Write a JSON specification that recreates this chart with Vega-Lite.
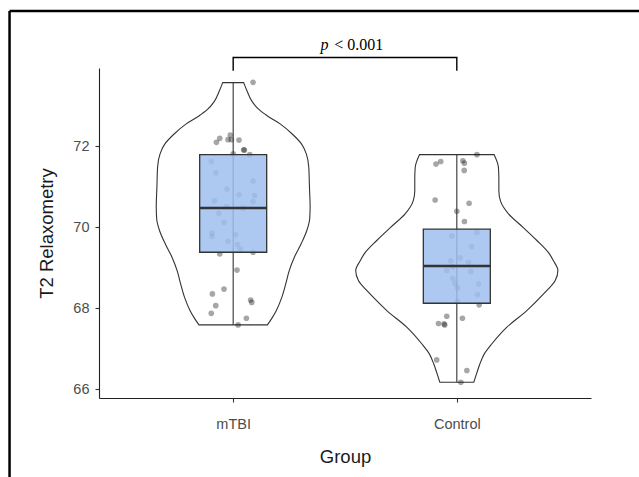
{
  "$schema": "https://vega.github.io/schema/vega-lite/v6.json",
  "width": 492,
  "height": 330,
  "autosize": {"type": "none"},
  "padding": {"left": 99, "top": 68, "right": 48, "bottom": 79},
  "background": "white",
  "config": {
    "view": {"stroke": null},
    "font": "Liberation Sans",
    "scale": {"continuousPadding": 0},
    "axis": {
      "grid": false,
      "domainColor": "#222222",
      "domainWidth": 1.1,
      "tickColor": "#333333",
      "tickWidth": 1.1,
      "tickSize": 4,
      "labelFont": "Liberation Sans",
      "labelFontSize": 14.5,
      "labelColor": "#4d4d4d",
      "titleFont": "Liberation Sans",
      "titleFontSize": 18.5,
      "titleFontWeight": "normal",
      "titleColor": "#1a1a1a"
    },
    "axisX": {"labelPadding": 15, "titlePadding": 17},
    "axisY": {"labelPadding": 6, "titlePadding": 16}
  },
  "datasets": {
    "violin": [
      {"group": "mTBI", "t2": 73.57, "lo": 0.953, "hi": 1.047},
      {"group": "mTBI", "t2": 73.35, "lo": 0.937, "hi": 1.063},
      {"group": "mTBI", "t2": 73.10, "lo": 0.915, "hi": 1.085},
      {"group": "mTBI", "t2": 72.90, "lo": 0.884, "hi": 1.116},
      {"group": "mTBI", "t2": 72.75, "lo": 0.848, "hi": 1.152},
      {"group": "mTBI", "t2": 72.55, "lo": 0.790, "hi": 1.210},
      {"group": "mTBI", "t2": 72.30, "lo": 0.736, "hi": 1.264},
      {"group": "mTBI", "t2": 72.05, "lo": 0.694, "hi": 1.306},
      {"group": "mTBI", "t2": 71.81, "lo": 0.673, "hi": 1.327},
      {"group": "mTBI", "t2": 71.48, "lo": 0.662, "hi": 1.338},
      {"group": "mTBI", "t2": 71.00, "lo": 0.659, "hi": 1.341},
      {"group": "mTBI", "t2": 70.50, "lo": 0.656, "hi": 1.344},
      {"group": "mTBI", "t2": 70.20, "lo": 0.658, "hi": 1.342},
      {"group": "mTBI", "t2": 69.91, "lo": 0.671, "hi": 1.329},
      {"group": "mTBI", "t2": 69.59, "lo": 0.696, "hi": 1.304},
      {"group": "mTBI", "t2": 69.25, "lo": 0.727, "hi": 1.273},
      {"group": "mTBI", "t2": 68.93, "lo": 0.749, "hi": 1.251},
      {"group": "mTBI", "t2": 68.60, "lo": 0.765, "hi": 1.235},
      {"group": "mTBI", "t2": 68.26, "lo": 0.783, "hi": 1.217},
      {"group": "mTBI", "t2": 67.93, "lo": 0.808, "hi": 1.192},
      {"group": "mTBI", "t2": 67.74, "lo": 0.828, "hi": 1.172},
      {"group": "mTBI", "t2": 67.585, "lo": 0.847, "hi": 1.153},
      {"group": "Control", "t2": 71.79, "lo": 1.833, "hi": 2.167},
      {"group": "Control", "t2": 71.60, "lo": 1.819, "hi": 2.181},
      {"group": "Control", "t2": 71.48, "lo": 1.814, "hi": 2.186},
      {"group": "Control", "t2": 71.20, "lo": 1.812, "hi": 2.188},
      {"group": "Control", "t2": 70.90, "lo": 1.812, "hi": 2.188},
      {"group": "Control", "t2": 70.65, "lo": 1.805, "hi": 2.195},
      {"group": "Control", "t2": 70.49, "lo": 1.791, "hi": 2.209},
      {"group": "Control", "t2": 70.33, "lo": 1.769, "hi": 2.231},
      {"group": "Control", "t2": 70.00, "lo": 1.705, "hi": 2.295},
      {"group": "Control", "t2": 69.67, "lo": 1.642, "hi": 2.358},
      {"group": "Control", "t2": 69.34, "lo": 1.586, "hi": 2.414},
      {"group": "Control", "t2": 69.17, "lo": 1.568, "hi": 2.432},
      {"group": "Control", "t2": 68.93, "lo": 1.548, "hi": 2.452},
      {"group": "Control", "t2": 68.68, "lo": 1.560, "hi": 2.440},
      {"group": "Control", "t2": 68.35, "lo": 1.612, "hi": 2.388},
      {"group": "Control", "t2": 67.94, "lo": 1.687, "hi": 2.313},
      {"group": "Control", "t2": 67.53, "lo": 1.776, "hi": 2.224},
      {"group": "Control", "t2": 67.12, "lo": 1.843, "hi": 2.157},
      {"group": "Control", "t2": 66.87, "lo": 1.877, "hi": 2.123},
      {"group": "Control", "t2": 66.62, "lo": 1.897, "hi": 2.103},
      {"group": "Control", "t2": 66.375, "lo": 1.912, "hi": 2.088},
      {"group": "Control", "t2": 66.17, "lo": 1.924, "hi": 2.076}
    ],
    "points": [
      {"group": "mTBI", "xpos": 1.089, "t2": 73.575},
      {"group": "mTBI", "xpos": 0.925, "t2": 72.094},
      {"group": "mTBI", "xpos": 0.940, "t2": 72.193},
      {"group": "mTBI", "xpos": 0.977, "t2": 72.16},
      {"group": "mTBI", "xpos": 0.987, "t2": 72.276},
      {"group": "mTBI", "xpos": 0.992, "t2": 72.16},
      {"group": "mTBI", "xpos": 1.026, "t2": 72.15},
      {"group": "mTBI", "xpos": 1.047, "t2": 71.91},
      {"group": "mTBI", "xpos": 1.050, "t2": 71.90},
      {"group": "mTBI", "xpos": 1.074, "t2": 71.79},
      {"group": "mTBI", "xpos": 1.000, "t2": 71.81},
      {"group": "mTBI", "xpos": 0.902, "t2": 71.62},
      {"group": "mTBI", "xpos": 0.922, "t2": 71.34},
      {"group": "mTBI", "xpos": 1.089, "t2": 71.14},
      {"group": "mTBI", "xpos": 0.972, "t2": 70.94},
      {"group": "mTBI", "xpos": 1.026, "t2": 70.80},
      {"group": "mTBI", "xpos": 1.096, "t2": 70.78},
      {"group": "mTBI", "xpos": 0.917, "t2": 70.65},
      {"group": "mTBI", "xpos": 1.089, "t2": 70.63},
      {"group": "mTBI", "xpos": 0.970, "t2": 70.51},
      {"group": "mTBI", "xpos": 1.044, "t2": 70.47},
      {"group": "mTBI", "xpos": 0.936, "t2": 70.34},
      {"group": "mTBI", "xpos": 0.959, "t2": 70.12},
      {"group": "mTBI", "xpos": 0.905, "t2": 69.85},
      {"group": "mTBI", "xpos": 0.905, "t2": 69.77},
      {"group": "mTBI", "xpos": 1.011, "t2": 69.81},
      {"group": "mTBI", "xpos": 0.977, "t2": 69.65},
      {"group": "mTBI", "xpos": 1.019, "t2": 69.57},
      {"group": "mTBI", "xpos": 1.032, "t2": 69.46},
      {"group": "mTBI", "xpos": 0.940, "t2": 69.34},
      {"group": "mTBI", "xpos": 1.089, "t2": 69.38},
      {"group": "mTBI", "xpos": 1.017, "t2": 68.94},
      {"group": "mTBI", "xpos": 0.959, "t2": 68.47},
      {"group": "mTBI", "xpos": 0.907, "t2": 68.35},
      {"group": "mTBI", "xpos": 1.078, "t2": 68.20},
      {"group": "mTBI", "xpos": 1.083, "t2": 68.14},
      {"group": "mTBI", "xpos": 0.922, "t2": 68.06},
      {"group": "mTBI", "xpos": 0.902, "t2": 67.87},
      {"group": "mTBI", "xpos": 1.059, "t2": 67.75},
      {"group": "mTBI", "xpos": 1.022, "t2": 67.585},
      {"group": "Control", "xpos": 2.090, "t2": 71.79},
      {"group": "Control", "xpos": 1.907, "t2": 71.56},
      {"group": "Control", "xpos": 1.928, "t2": 71.62},
      {"group": "Control", "xpos": 2.027, "t2": 71.64},
      {"group": "Control", "xpos": 2.034, "t2": 71.58},
      {"group": "Control", "xpos": 2.033, "t2": 71.40},
      {"group": "Control", "xpos": 1.903, "t2": 70.67},
      {"group": "Control", "xpos": 2.055, "t2": 70.59},
      {"group": "Control", "xpos": 2.000, "t2": 70.39},
      {"group": "Control", "xpos": 2.034, "t2": 70.14},
      {"group": "Control", "xpos": 2.090, "t2": 69.87},
      {"group": "Control", "xpos": 1.978, "t2": 69.78},
      {"group": "Control", "xpos": 2.066, "t2": 69.52},
      {"group": "Control", "xpos": 2.015, "t2": 69.24},
      {"group": "Control", "xpos": 1.973, "t2": 69.17},
      {"group": "Control", "xpos": 2.052, "t2": 69.13},
      {"group": "Control", "xpos": 1.982, "t2": 69.02},
      {"group": "Control", "xpos": 1.955, "t2": 68.93},
      {"group": "Control", "xpos": 2.063, "t2": 68.90},
      {"group": "Control", "xpos": 1.982, "t2": 68.73},
      {"group": "Control", "xpos": 1.992, "t2": 68.61},
      {"group": "Control", "xpos": 2.003, "t2": 68.50},
      {"group": "Control", "xpos": 2.097, "t2": 68.60},
      {"group": "Control", "xpos": 2.092, "t2": 68.33},
      {"group": "Control", "xpos": 2.003, "t2": 68.17},
      {"group": "Control", "xpos": 2.100, "t2": 68.08},
      {"group": "Control", "xpos": 1.955, "t2": 67.80},
      {"group": "Control", "xpos": 1.918, "t2": 67.62},
      {"group": "Control", "xpos": 1.943, "t2": 67.61},
      {"group": "Control", "xpos": 1.946, "t2": 67.585},
      {"group": "Control", "xpos": 2.025, "t2": 67.75},
      {"group": "Control", "xpos": 1.910, "t2": 66.72},
      {"group": "Control", "xpos": 2.045, "t2": 66.46},
      {"group": "Control", "xpos": 2.018, "t2": 66.17}
    ],
    "boxes": [
      {"group": "mTBI", "pos": 1, "lower": 67.585, "q1": 69.38, "median": 70.47, "q3": 71.79, "upper": 73.57},
      {"group": "Control", "pos": 2, "lower": 66.17, "q1": 68.12, "median": 69.04, "q3": 69.95, "upper": 71.79}
    ],
    "bracket": [
      {"bx": 1, "by": 73.86, "ord": 1},
      {"bx": 1, "by": 74.19, "ord": 2},
      {"bx": 2, "by": 74.19, "ord": 3},
      {"bx": 2, "by": 73.86, "ord": 4}
    ],
    "frame": [
      {"fx": 0.0, "fy": 75.34, "fx2": 3.2, "fy2": 75.34},
      {"fx": 0.0, "fy": 75.34, "fx2": 0.0, "fy2": 62.0}
    ]
  },
  "layer": [
    {
      "data": {"name": "violin"},
      "mark": {"type": "area", "orient": "horizontal", "interpolate": "monotone", "fill": "white", "stroke": "#333333", "strokeWidth": 1.1},
      "encoding": {
        "y": {"field": "t2", "type": "quantitative", "title": "T2 Relaxometry", "scale": {"domain": [65.78, 73.93], "nice": false, "zero": false, "padding": 0}, "axis": {"values": [66, 68, 70, 72]}},
        "x": {"field": "lo", "type": "quantitative", "title": "Group", "scale": {"domain": [0.4, 2.6], "nice": false, "zero": false, "padding": 0}, "axis": {"values": [1, 2], "labelExpr": "datum.value == 1 ? 'mTBI' : 'Control'"}},
        "x2": {"field": "hi"},
        "detail": {"field": "group"}
      }
    },
    {
      "data": {"name": "points"},
      "mark": {"type": "circle", "color": "#000000", "opacity": 0.35, "size": 32},
      "encoding": {
        "y": {"field": "t2", "type": "quantitative", "title": "T2 Relaxometry"},
        "x": {"field": "xpos", "type": "quantitative", "title": "Group"}
      }
    },
    {
      "data": {"name": "boxes"},
      "mark": {"type": "rule", "color": "#333333", "strokeWidth": 1.1},
      "encoding": {
        "x": {"field": "pos", "type": "quantitative", "title": "Group"},
        "y": {"field": "lower", "type": "quantitative", "title": "T2 Relaxometry"},
        "y2": {"field": "upper"}
      }
    },
    {
      "data": {"name": "boxes"},
      "mark": {"type": "bar", "size": 67, "fill": "#9fc0ef", "fillOpacity": 0.85, "stroke": "#333333", "strokeWidth": 1.3},
      "encoding": {
        "x": {"field": "pos", "type": "quantitative", "title": "Group"},
        "y": {"field": "q1", "type": "quantitative", "title": "T2 Relaxometry"},
        "y2": {"field": "q3"}
      }
    },
    {
      "data": {"name": "boxes"},
      "mark": {"type": "tick", "orient": "horizontal", "size": 67, "thickness": 2.5, "color": "#333333", "opacity": 1},
      "encoding": {
        "x": {"field": "pos", "type": "quantitative", "title": "Group"},
        "y": {"field": "median", "type": "quantitative", "title": "T2 Relaxometry"}
      }
    },
    {
      "data": {"name": "bracket"},
      "mark": {"type": "line", "color": "#000000", "strokeWidth": 1.4},
      "encoding": {
        "x": {"field": "bx", "type": "quantitative", "title": "Group"},
        "y": {"field": "by", "type": "quantitative", "title": "T2 Relaxometry"},
        "order": {"field": "ord"}
      }
    },
    {
      "data": {"values": [{"lx": 1.39, "ly": 74.5}]},
      "mark": {"type": "text", "text": "p", "font": "Liberation Serif", "fontSize": 16, "fontStyle": "italic", "align": "left", "baseline": "middle", "color": "#000000"},
      "encoding": {
        "x": {"field": "lx", "type": "quantitative", "title": "Group"},
        "y": {"field": "ly", "type": "quantitative", "title": "T2 Relaxometry"}
      }
    },
    {
      "data": {"values": [{"lx": 1.452, "ly": 74.5}]},
      "mark": {"type": "text", "text": "< 0.001", "font": "Liberation Serif", "fontSize": 16, "align": "left", "baseline": "middle", "color": "#000000"},
      "encoding": {
        "x": {"field": "lx", "type": "quantitative", "title": "Group"},
        "y": {"field": "ly", "type": "quantitative", "title": "T2 Relaxometry"}
      }
    },
    {
      "data": {"name": "frame"},
      "mark": {"type": "rule", "color": "#000000", "strokeWidth": 2.5},
      "encoding": {
        "x": {"field": "fx", "type": "quantitative", "title": "Group"},
        "y": {"field": "fy", "type": "quantitative", "title": "T2 Relaxometry"},
        "x2": {"field": "fx2"},
        "y2": {"field": "fy2"}
      }
    }
  ]
}
